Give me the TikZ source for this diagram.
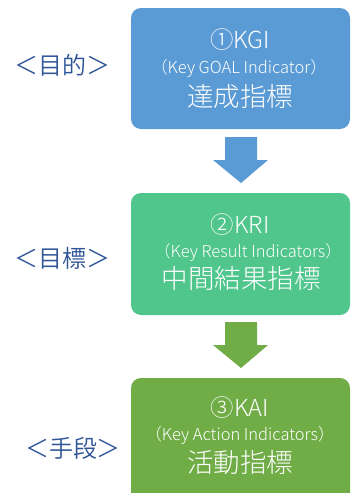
\documentclass[tikz,border=0pt]{standalone}
\usepackage{fontspec}
\setmainfont{Noto Sans CJK JP}
\newfontfamily\jpfont{Noto Sans CJK JP}[UprightFont=* Light]
\newfontfamily\jpreg{Noto Sans CJK JP}[UprightFont=* DemiLight]
\definecolor{kgiblue}{HTML}{5B9BD5}
\definecolor{krigreen}{HTML}{50C58C}
\definecolor{kaigreen}{HTML}{70AD47}
\definecolor{labelblue}{HTML}{2F5597}
\begin{document}
\begin{tikzpicture}[x=1pt,y=-1pt,
  box/.style={rounded corners=10pt, draw=none},
  ttl/.style={text=white, font=\jpfont\fontsize{23.5}{23.5}\selectfont, inner sep=0pt, anchor=center},
  sub/.style={text=white, font=\jpfont\fontsize{16.5}{16.5}\selectfont, inner sep=0pt, anchor=center},
  jp/.style={text=white, font=\jpfont\fontsize{26.5}{26.5}\selectfont, inner sep=0pt, anchor=center},
  side/.style={text=labelblue, font=\jpreg\fontsize{24}{24}\selectfont, inner sep=0pt, anchor=center}
]
\useasboundingbox (0,0) rectangle (351,493);
% boxes
\fill[kgiblue, box] (131,8) rectangle (350,129);
\fill[krigreen, box] (131,193) rectangle (350,315);
\fill[kaigreen, box] (131,378) rectangle (350,505);
% arrows
\fill[kgiblue] (225,137) -- (257,137) -- (257,160) -- (268,160) -- (241,183) -- (213,160) -- (225,160) -- cycle;
\fill[kaigreen] (225,322) -- (257,322) -- (257,345) -- (268,345) -- (241,368) -- (213,345) -- (225,345) -- cycle;
% texts box1
\node[ttl] (t1) at (240,40) {①KGI};
\node[sub] (s1) at (239,68) {（Key GOAL Indicator）};
\node[jp] (j1) at (240,96) {達成指標};
% box2
\node[ttl] (t2) at (240,225) {②KRI};
\node[sub] (s2) at (248,252) {（Key Result Indicators）};
\node[jp] (j2) at (241,278) {中間結果指標};
% box3
\node[ttl] (t3) at (240,408) {③KAI};
\node[sub] (s3) at (240,435) {（Key Action Indicators）};
\node[jp] (j3) at (240,462) {活動指標};
% side labels
\node[side] (l1) at (63,65) {＜目的＞};
\node[side] (l2) at (63,258) {＜目標＞};
\node[side] (l3) at (73,448) {＜手段＞};
\end{tikzpicture}
\end{document}
